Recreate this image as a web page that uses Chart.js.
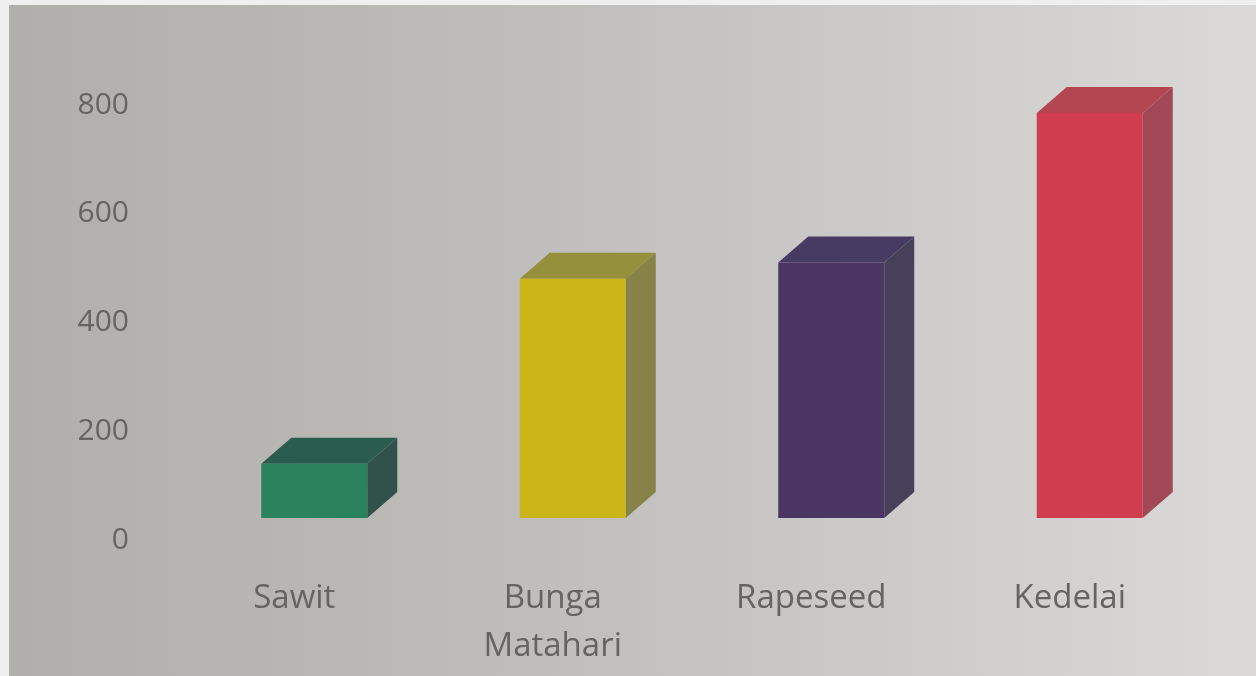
<!DOCTYPE html>
<html>
<head>
<meta charset="utf-8">
<script src="https://cdn.jsdelivr.net/npm/chart.js@4.4.0/dist/chart.umd.min.js"></script>
<style>
  html, body { margin: 0; padding: 0; }
  body { width: 1256px; height: 676px; overflow: hidden; background: #efefef; position: relative; }
  #paper {
    position: absolute; left: 9px; top: 5px; right: 0; bottom: 0;
    background: linear-gradient(to right, #b1afac 0%, #b9b7b4 25%, #c3c1bf 50%, #cfcdcb 75%, #dad9d8 100%);
  }
  #box { position: absolute; left: 0; top: 0; width: 1256px; height: 676px; }
  canvas { filter: blur(0.6px); }
</style>
</head>
<body>
<div id="paper"></div>
<div id="box"><canvas id="chart" width="1256" height="676"></canvas></div>
<script>
// data
const categories = ['Sawit', ['Bunga', 'Matahari'], 'Rapeseed', 'Kedelai'];
const values = [100, 440, 470, 745];
const yTicks = [0, 200, 400, 600, 800];

const frontColors = ['#2a835d', '#cbb519', '#4a3563', '#cf3d4e'];
const topColors = ['#2b5d4f', '#94903b', '#483b63', '#b44652'];
const sideColors = ['#30524b', '#878247', '#47405a', '#a24856'];

const textColor = '#666361';
const depthX = 30;
const depthY = 26;

// draws top and right faces behind each bar so they look like boxes
const depthPlugin = {
    id: 'depth',
    beforeDatasetsDraw(chart) {
        const ctx = chart.ctx;
        const meta = chart.getDatasetMeta(0);
        meta.data.forEach((bar, i) => {
            const p = bar.getProps(['x', 'y', 'base', 'width'], true);
            const left = p.x - p.width / 2;
            const right = p.x + p.width / 2;
            const top = Math.min(p.y, p.base);
            const bottom = Math.max(p.y, p.base);

            ctx.save();
            ctx.fillStyle = topColors[i];
            ctx.beginPath();
            ctx.moveTo(left, top);
            ctx.lineTo(left + depthX, top - depthY);
            ctx.lineTo(right + depthX, top - depthY);
            ctx.lineTo(right, top);
            ctx.closePath();
            ctx.fill();

            ctx.fillStyle = sideColors[i];
            ctx.beginPath();
            ctx.moveTo(right, top);
            ctx.lineTo(right + depthX, top - depthY);
            ctx.lineTo(right + depthX, bottom - depthY);
            ctx.lineTo(right, bottom);
            ctx.closePath();
            ctx.fill();
            ctx.restore();
        });
    }
};

const ctx = document.getElementById('chart').getContext('2d');
const chart = new Chart(ctx, {
    type: 'bar',
    data: {
        labels: categories,
        datasets: [{
            data: values,
            backgroundColor: frontColors,
            borderWidth: 0,
            categoryPercentage: 1,
            barPercentage: 0.41
        }]
    },
    options: {
        responsive: false,
        animation: false,
        devicePixelRatio: 1,
        layout: {
            padding: { left: 0, right: 37, top: 83, bottom: 0 }
        },
        plugins: {
            legend: { display: false },
            tooltip: { enabled: false }
        },
        scales: {
            x: {
                afterFit: s => { s.height = 158; },
                grid: { display: false, drawTicks: false },
                border: { display: false },
                ticks: {
                    color: textColor,
                    font: { family: 'Open Sans', size: 33, lineHeight: 1.45 },
                    padding: 57,
                    labelOffset: -20,
                    maxRotation: 0,
                    autoSkip: false
                }
            },
            y: {
                min: 0,
                max: 800,
                afterFit: s => { s.width = 185; },
                afterBuildTicks: s => { s.ticks = yTicks.map(v => ({ value: v })); },
                grid: { display: false, drawTicks: false },
                border: { display: false },
                ticks: {
                    color: textColor,
                    font: { family: 'Open Sans', size: 30 },
                    padding: 56,
                    labelOffset: 22
                }
            }
        }
    },
    plugins: [depthPlugin]
});
</script>
</body>
</html>
